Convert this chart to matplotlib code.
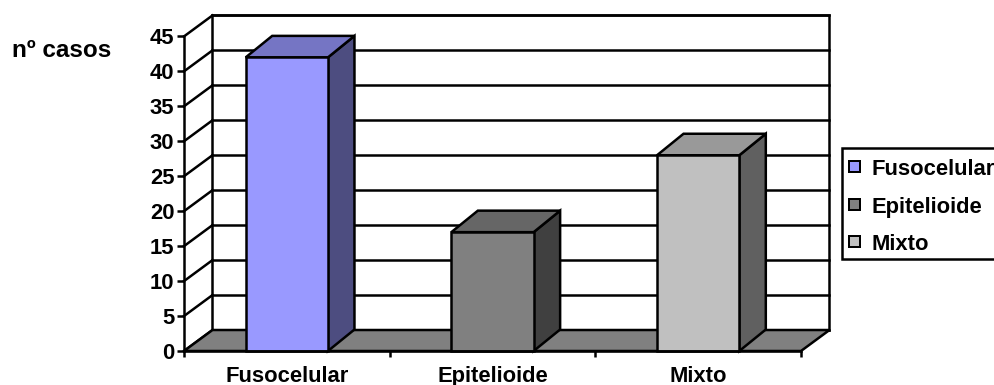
import matplotlib
matplotlib.use("Agg")
import matplotlib.pyplot as plt
from matplotlib.patches import Polygon, Rectangle
from matplotlib.lines import Line2D
from matplotlib.transforms import IdentityTransform

# ---- data ----
categories = ["Fusocelular", "Epitelioide", "Mixto"]
cases = [42, 17, 28]
y_ticks = [0, 5, 10, 15, 20, 25, 30, 35, 40, 45]
y_label = "nº casos"

# ---- style ----
front_colors = ["#9999FF", "#808080", "#C0C0C0"]
top_colors = ["#7575C4", "#666666", "#999999"]
side_colors = ["#4D4D80", "#404040", "#606060"]
floor_color = "#808080"
FS = 15.8
LW = 1.8

plt.rcParams["font.family"] = ["Liberation Sans", "DejaVu Sans"]
plt.rcParams["font.weight"] = "bold"

W, H, DPI = 995, 385, 100
fig = plt.figure(figsize=(W / DPI, H / DPI), dpi=DPI)
fig.patch.set_facecolor("white")

# front plane of the 3D box, in pixel extents
x_left, x_right, y_zero, y_top = 184, 801, 351, 36.4
ax = fig.add_axes([x_left / W, (H - y_zero) / H,
                   (x_right - x_left) / W, (y_zero - y_top) / H])
ax.set_xlim(-0.5, len(categories) - 0.5)
ax.set_ylim(0, y_ticks[-1])
ax.patch.set_visible(False)
for s in ("top", "right"):
    ax.spines[s].set_visible(False)
for s in ("left", "bottom"):
    ax.spines[s].set_linewidth(LW)
    ax.spines[s].set_zorder(10)

# depth offsets (pixels) for the walls and for the columns
WALL_D = (28.5, 21.0)
BAR_D = (26.5, 21.5)


def to_px(pts, depth):
    """Map (x, value, d) triples to display pixels with a receding depth."""
    out = []
    for x, v, d in pts:
        px, py = ax.transData.transform((x, v))
        out.append((px + d * depth[0], py + d * depth[1]))
    return out


def face(pts, depth, fc, z):
    ax.add_patch(Polygon(to_px(pts, depth), closed=True, transform=IdentityTransform(),
                         facecolor=fc, edgecolor="black", linewidth=LW,
                         joinstyle="miter", clip_on=False, zorder=z))


def seg(pts, depth, z):
    xs, ys = zip(*to_px(pts, depth))
    ax.add_line(Line2D(xs, ys, transform=IdentityTransform(), color="black",
                       linewidth=LW, clip_on=False, zorder=z))


x0, x1 = -0.5, len(categories) - 0.5
ymax = y_ticks[-1]

# back wall
face([(x0, 0, 1), (x1, 0, 1), (x1, ymax, 1), (x0, ymax, 1)], WALL_D, "white", 1)
# grid lines on the back wall and the left side
for v in y_ticks:
    seg([(x0, v, 1), (x1, v, 1)], WALL_D, 1.5)
    seg([(x0, v, 0), (x0, v, 1)], WALL_D, 1.5)
# floor
face([(x0, 0, 0), (x1, 0, 0), (x1, 0, 1), (x0, 0, 1)], WALL_D, floor_color, 2)

# columns
half = 0.2
for i, v in enumerate(cases):
    a, b = i - half, i + half
    z = 3 + i
    face([(b, 0, 0), (b, v, 0), (b, v, 1), (b, 0, 1)], BAR_D, side_colors[i], z)
    face([(a, v, 0), (b, v, 0), (b, v, 1), (a, v, 1)], BAR_D, top_colors[i], z)
    face([(a, 0, 0), (b, 0, 0), (b, v, 0), (a, v, 0)], BAR_D, front_colors[i], z)

# axes ticks and labels
ax.set_yticks(y_ticks)
ax.set_yticklabels([str(t) for t in y_ticks])
ax.tick_params(axis="y", length=5, width=LW, pad=2, labelsize=FS)
ax.set_xticks([i - 0.5 for i in range(len(categories) + 1)])
ax.set_xticklabels([])
ax.set_xticks(range(len(categories)), minor=True)
ax.set_xticklabels(categories, minor=True, fontsize=FS, fontweight="bold")
ax.tick_params(axis="x", which="major", length=4.5, width=LW)
ax.tick_params(axis="x", which="minor", length=0, pad=10.5)

fig.text(12 / W, 1 - 57 / H, y_label, fontsize=17.5, fontweight="bold",
         ha="left", va="baseline")

# legend box
fig.add_artist(Rectangle((842 / W, 1 - 259 / H), (1010 - 842) / W, (259 - 148) / H,
                         transform=fig.transFigure, facecolor="white",
                         edgecolor="black", linewidth=LW, zorder=20))
for i, name in enumerate(categories):
    top = 161 + i * 37.5
    fig.add_artist(Rectangle((849 / W, 1 - (top + 11) / H), 11 / W, 11 / H,
                             transform=fig.transFigure, facecolor=front_colors[i],
                             edgecolor="black", linewidth=LW * 0.8, zorder=21))
    fig.text(872 / W, 1 - (175 + i * 37.5) / H, name, fontsize=FS,
             fontweight="bold", ha="left", va="baseline", zorder=22)

fig.savefig("out.png", dpi=DPI, facecolor="white")
